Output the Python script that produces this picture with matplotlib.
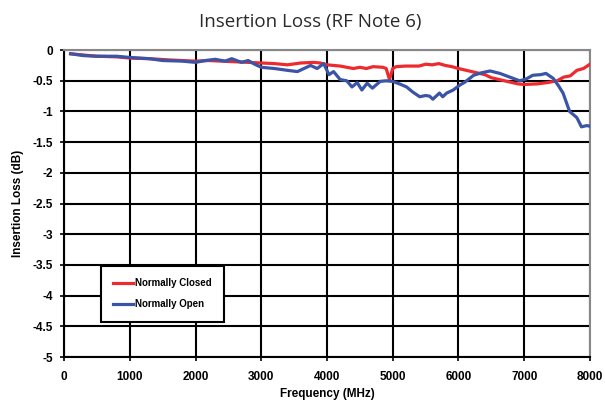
import matplotlib.pyplot as plt

# values
freq_closed = [100, 300, 500, 800, 1000, 1300, 1600, 1800, 2000, 2200, 2400, 2600, 2800,
               3000, 3200, 3400, 3600, 3800, 3900, 4000, 4100, 4200, 4400, 4500, 4600,
               4700, 4850, 4900, 4950, 5000, 5050, 5200, 5400, 5500, 5600, 5700, 5800,
               5900, 6000, 6200, 6400, 6500, 6700, 6900, 7000, 7200, 7350, 7500, 7600,
               7700, 7800, 7900, 8000]
loss_closed = [-0.06, -0.08, -0.10, -0.11, -0.13, -0.14, -0.16, -0.17, -0.18, -0.17, -0.18,
               -0.19, -0.20, -0.21, -0.22, -0.24, -0.21, -0.20, -0.21, -0.24, -0.25, -0.26,
               -0.30, -0.28, -0.30, -0.27, -0.28, -0.30, -0.48, -0.30, -0.27, -0.26, -0.26,
               -0.23, -0.24, -0.22, -0.25, -0.27, -0.30, -0.35, -0.40, -0.45, -0.50, -0.55,
               -0.56, -0.55, -0.53, -0.50, -0.44, -0.42, -0.33, -0.30, -0.23]

freq_open = [100, 300, 500, 800, 1000, 1300, 1500, 1800, 2000, 2150, 2300, 2450, 2550, 2700,
             2800, 2900, 3000, 3200, 3400, 3550, 3650, 3750, 3850, 3950, 4030, 4100, 4200,
             4300, 4380, 4460, 4530, 4610, 4690, 4810, 4900, 5000, 5100, 5210, 5300, 5410,
             5500, 5560, 5610, 5710, 5760, 5820, 5920, 6020, 6100, 6230, 6350, 6480, 6630,
             6830, 6930, 7030, 7130, 7250, 7330, 7440, 7520, 7590, 7690, 7800, 7870, 7950,
             8000]
loss_open = [-0.06, -0.09, -0.10, -0.10, -0.12, -0.14, -0.17, -0.18, -0.20, -0.17, -0.15,
             -0.18, -0.14, -0.20, -0.17, -0.23, -0.28, -0.30, -0.33, -0.35, -0.30, -0.25,
             -0.30, -0.22, -0.40, -0.35, -0.48, -0.50, -0.60, -0.53, -0.65, -0.54, -0.62,
             -0.51, -0.50, -0.51, -0.55, -0.60, -0.68, -0.76, -0.74, -0.75, -0.80, -0.70,
             -0.76, -0.70, -0.65, -0.57, -0.52, -0.41, -0.37, -0.34, -0.38, -0.46, -0.50,
             -0.47, -0.41, -0.40, -0.38, -0.46, -0.58, -0.70, -1.00, -1.10, -1.25, -1.23,
             -1.24]

x_ticks = [0, 1000, 2000, 3000, 4000, 5000, 6000, 7000, 8000]
y_ticks = [0, -0.5, -1, -1.5, -2, -2.5, -3, -3.5, -4, -4.5, -5]
y_labels = ['0', '-0.5', '-1', '-1.5', '-2', '-2.5', '-3', '-3.5', '-4', '-4.5', '-5']

plt.rcParams['font.family'] = ['Liberation Sans', 'DejaVu Sans']

fig = plt.figure(figsize=(6.05, 4.04), dpi=100)
ax = fig.add_axes([0.1058, 0.1163, 0.8694, 0.7597])

ax.plot(freq_closed, loss_closed, color='#ee2a2e', lw=2.3, label='Normally Closed', zorder=3)
ax.plot(freq_open, loss_open, color='#3b55a6', lw=2.3, label='Normally Open', zorder=4)

ax.set_xlim(0, 8000)
ax.set_ylim(-5, 0)
ax.set_xticks(x_ticks)
ax.set_xticklabels([str(t) for t in x_ticks], fontsize=8.5, fontweight='bold')
ax.set_yticks(y_ticks)
ax.set_yticklabels(y_labels, fontsize=8.5, fontweight='bold')
ax.tick_params(axis='y', direction='out', length=3, width=1.2, pad=5)
ax.tick_params(axis='x', direction='out', length=3, width=1.2, pad=7)
ax.grid(True, color='black', lw=1.5, zorder=1)
ax.set_axisbelow(True)

for s in ['top', 'right']:
    ax.spines[s].set_color('#888888')
    ax.spines[s].set_linewidth(1.5)
for s in ['left', 'bottom']:
    ax.spines[s].set_color('black')
    ax.spines[s].set_linewidth(1.5)

ax.set_xlabel('Frequency (MHz)', fontsize=8.5, fontweight='bold', labelpad=4)
ax.set_ylabel('Insertion Loss (dB)', fontsize=8.5, fontweight='bold', labelpad=6)
fig.suptitle('Insertion Loss (RF Note 6)', x=0.512, y=0.968, fontsize=13.5, color='#2a2a2a',
             family=['Open Sans', 'DejaVu Sans'])

leg = ax.legend(loc='lower left', bbox_to_anchor=(0.07, 0.115),
                prop={'weight': 'bold', 'size': 7}, frameon=True, fancybox=False,
                handlelength=2.0, handletextpad=0.2, borderpad=1.3, labelspacing=1.1,
                borderaxespad=0)
leg.get_frame().set_edgecolor('black')
leg.get_frame().set_linewidth(1.5)
leg.get_frame().set_alpha(1)

fig.savefig('out.png', dpi=100)
